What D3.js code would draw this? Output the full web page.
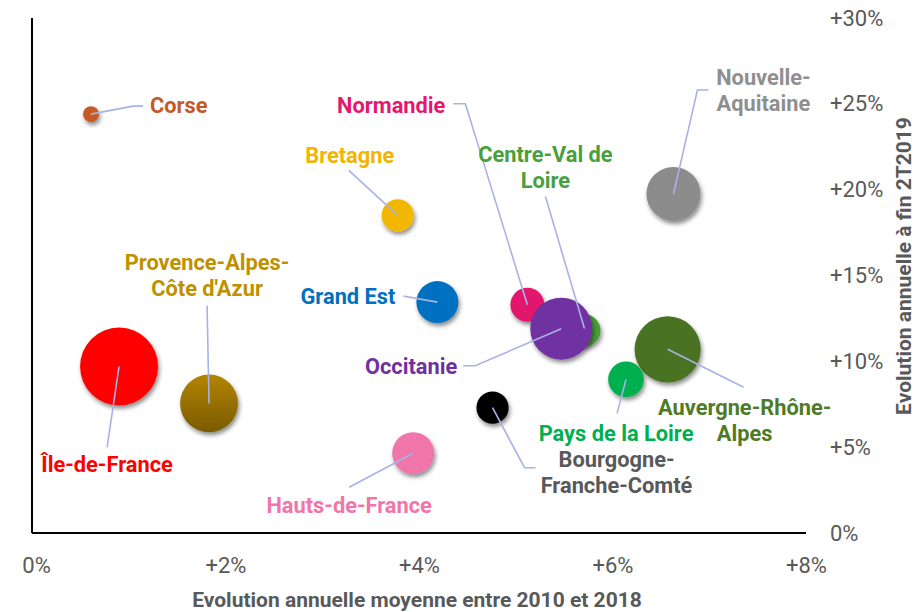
<!DOCTYPE html>
<html lang="fr">
<head>
<meta charset="utf-8">
<script src="https://cdn.jsdelivr.net/npm/d3@7"></script>
<style>
  html, body { margin: 0; padding: 0; background: #ffffff; }
  svg { display: block; font-family: Roboto, "Noto Sans", sans-serif; }
</style>
</head>
<body>
<svg id="chart" width="918" height="612"></svg>
<script>
// Régions françaises : croissance 2010-2018 vs évolution annuelle fin 2T2019
const regions = ["Corse", "Bretagne", "Normandie", "Centre-Val de Loire", "Occitanie",
  "Grand Est", "Nouvelle-Aquitaine", "Auvergne-Rhône-Alpes", "Pays de la Loire",
  "Bourgogne-Franche-Comté", "Hauts-de-France", "Île-de-France", "Provence-Alpes-Côte d'Azur"];
// Evolution annuelle moyenne entre 2010 et 2018 (%)
const evol2010_2018 = [0.61, 3.78, 5.12, 5.71, 5.47, 4.19, 6.63, 6.57, 6.14, 4.76, 3.94, 0.90, 1.83];
// Evolution annuelle à fin 2T2019 (%)
const evolFin2T2019 = [24.4, 18.5, 13.3, 11.8, 11.9, 13.45, 19.75, 10.7, 8.95, 7.3, 4.65, 9.7, 7.55];
// Poids relatif de chaque région (surface des bulles)
const poids = [4.2, 17, 19, 17, 63, 29, 48, 72, 21, 17, 29, 100, 55];

const xTicks = [0, 2, 4, 6, 8];
const yTicks = [0, 5, 10, 15, 20, 25, 30];

// Couleurs des bulles et des étiquettes
const fills = ["#C55A28", "#F2B705", "#E3186E", "#4A9E3A", "#7030A0", "#0070C0", "#8C8C8C",
  "#4A7321", "#00B050", "#000000", "#F075AA", "#FF0000", "url(#pacaGrad)"];
const labelColors = ["#C55A28", "#F2B400", "#E3186E", "#48A03C", "#7030A0", "#0070C0", "#8F8F8F",
  "#4F7B26", "#00B050", "#595959", "#F075AA", "#FF0000", "#BF9000"];

// Placement des étiquettes (décalages en px depuis le centre de la bulle) et lignes de rappel
const labelLayout = [
  { lines: ["Corse"], dx: 59, dy: -9, anchor: "start", leader: [[0, 0], [42, -8], [52, -8]] },
  { lines: ["Bretagne"], dx: -48, dy: -60, anchor: "middle", leader: [[0, 0], [-49, -45]] },
  { lines: ["Normandie"], dx: -82, dy: -200, anchor: "end", leader: [[0, 0], [-62, -201], [-74, -201]] },
  { lines: ["Centre-Val de", "Loire"], dx: -39, dy: -176, anchor: "middle", leader: [[0, -2], [-39, -134]] },
  { lines: ["Occitanie"], dx: -104, dy: 37, anchor: "end", leader: [[0, 0], [-86, 37], [-98, 37]] },
  { lines: ["Grand Est"], dx: -42, dy: -6, anchor: "end", leader: [[0, 0], [-34, -6]] },
  { lines: ["Nouvelle-", "Aquitaine"], dx: 90, dy: -117, anchor: "middle", leader: [[0, 0], [24, -104], [35, -104]] },
  { lines: ["Auvergne-Rhône-", "Alpes"], dx: 77, dy: 58, anchor: "middle", leader: [[0, 0], [76, 38]] },
  { lines: ["Pays de la Loire"], dx: -10, dy: 54, anchor: "middle", leader: [[0, 0], [-9, 34]] },
  { lines: ["Bourgogne-", "Franche-Comté"], dx: 124, dy: 51, anchor: "middle", leader: [[0, 0], [32, 60], [43, 60]] },
  { lines: ["Hauts-de-France"], dx: -64, dy: 52, anchor: "middle", leader: [[0, 0], [-64, 34]] },
  { lines: ["Île-de-France"], dx: -12, dy: 98, anchor: "middle", leader: [[0, 0], [-12, 81]] },
  { lines: ["Provence-Alpes-", "Côte d'Azur"], dx: -2, dy: -141, anchor: "middle", leader: [[0, 0], [-2, -98]] }
];

const data = regions.map((r, i) => ({
  region: r, x: evol2010_2018[i], y: evolFin2T2019[i], w: poids[i],
  fill: fills[i], color: labelColors[i], layout: labelLayout[i]
}));

const svg = d3.select("#chart");
const x = d3.scaleLinear().domain([0, 8]).range([32, 806]);
const y = d3.scaleLinear().domain([0, 30]).range([533, 18]);
const r = d3.scaleSqrt().domain([0, 100]).range([0, 39]);

const defs = svg.append("defs");
const sh = defs.append("filter").attr("id", "shadow")
  .attr("x", "-40%").attr("y", "-40%").attr("width", "180%").attr("height", "180%");
sh.append("feDropShadow").attr("dx", 1.5).attr("dy", 3).attr("stdDeviation", 2.2)
  .attr("flood-color", "#000").attr("flood-opacity", 0.45);
const grad = defs.append("linearGradient").attr("id", "pacaGrad")
  .attr("x1", 0).attr("y1", 0).attr("x2", 0).attr("y2", 1);
grad.append("stop").attr("offset", "0%").attr("stop-color", "#B38500");
grad.append("stop").attr("offset", "100%").attr("stop-color", "#7A5A00");

// Axes : ligne verticale à gauche, ligne horizontale en bas, graduations Y à droite
svg.append("line").attr("x1", x(0)).attr("x2", x(0)).attr("y1", y(30)).attr("y2", y(0))
  .attr("stroke", "#000").attr("stroke-width", 2);
svg.append("line").attr("x1", x(0)).attr("x2", x(8)).attr("y1", y(0)).attr("y2", y(0))
  .attr("stroke", "#000").attr("stroke-width", 2);

const fmt = v => (v === 0 ? "0%" : "+" + v + "%");

const xAxis = svg.append("g").attr("transform", `translate(0,${y(0)})`)
  .call(d3.axisBottom(x).tickValues(xTicks).tickFormat(fmt).tickSize(0).tickPadding(24));
xAxis.select(".domain").remove();
xAxis.selectAll("text").attr("font-size", 22).attr("fill", "#595959")
  .attr("font-family", "Roboto, sans-serif").attr("dx", (d, i) => (i === 0 ? 4 : 0));

const yAxis = svg.append("g").attr("transform", `translate(${x(8) + 24},0)`)
  .call(d3.axisRight(y).tickValues(yTicks).tickFormat(fmt).tickSize(0).tickPadding(0));
yAxis.select(".domain").remove();
yAxis.selectAll("text").attr("font-size", 22).attr("fill", "#595959")
  .attr("font-family", "Roboto, sans-serif");

// Titres des axes
svg.append("text").attr("x", 417).attr("y", 600).attr("text-anchor", "middle")
  .attr("dominant-baseline", "central")
  .attr("font-size", 21).attr("font-weight", "bold").attr("fill", "#595959")
  .text("Evolution annuelle moyenne entre 2010 et 2018");
svg.append("text").attr("transform", "translate(904,266) rotate(-90)").attr("text-anchor", "middle")
  .attr("dominant-baseline", "central")
  .attr("font-size", 21).attr("font-weight", "bold").attr("fill", "#595959")
  .text("Evolution annuelle à fin 2T2019");

// Bulles
svg.append("g").selectAll("circle").data(data).join("circle")
  .attr("cx", d => x(d.x)).attr("cy", d => y(d.y)).attr("r", d => r(d.w))
  .attr("fill", d => d.fill).attr("filter", "url(#shadow)");

// Lignes de rappel
const line = d3.line();
svg.append("g").selectAll("path").data(data).join("path")
  .attr("d", d => line(d.layout.leader.map(p => [x(d.x) + p[0], y(d.y) + p[1]])))
  .attr("fill", "none").attr("stroke", "#A8B2E6").attr("stroke-width", 1.6);

// Etiquettes
const lab = svg.append("g").selectAll("text").data(data).join("text")
  .attr("x", d => x(d.x) + d.layout.dx).attr("y", d => y(d.y) + d.layout.dy)
  .attr("text-anchor", d => d.layout.anchor).attr("dominant-baseline", "central")
  .attr("font-size", 21.8).attr("font-weight", "bold").attr("fill", d => d.color);
lab.selectAll("tspan").data(d => d.layout.lines.map((t, k) => ({ t, k, d }))).join("tspan")
  .attr("x", o => x(o.d.x) + o.d.layout.dx).attr("dy", o => (o.k === 0 ? 0 : 26))
  .text(o => o.t);
</script>
</body>
</html>
